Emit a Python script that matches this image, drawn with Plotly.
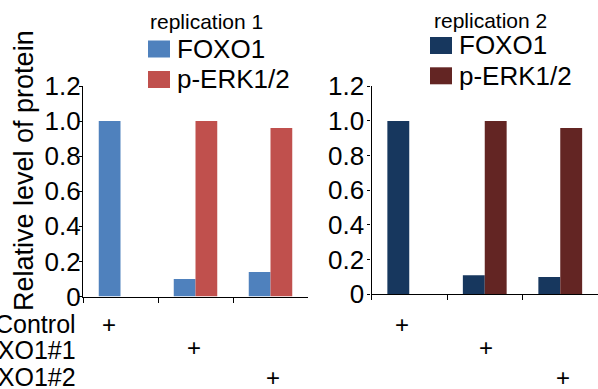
import plotly.graph_objects as go

# ---- data ----
conditions = ["Control", "siFOXO1#1", "siFOXO1#2"]
series_names = ["FOXO1", "p-ERK1/2"]
rep1_foxo1 = [1.0, 0.10, 0.14]
rep1_perk = [0.0, 1.0, 0.96]
rep2_foxo1 = [1.0, 0.11, 0.10]
rep2_perk = [0.0, 1.0, 0.96]
ytick_vals = [0, 0.2, 0.4, 0.6, 0.8, 1.0, 1.2]
ytick_text = ["0", "0.2", "0.4", "0.6", "0.8", "1.0", "1.2"]
rep_titles = ["replication 1", "replication 2"]

# ---- style ----
W, H = 598, 389
FONT = "Arial, Liberation Sans, sans-serif"
c1 = ["#4F81BD", "#C0504D"]
c2 = ["#17375E", "#632523"]


def px_x(v):
    return v / W


def px_y(v):
    return (H - v) / H


fig = go.Figure()
fig.add_trace(go.Bar(x=conditions, y=rep1_foxo1, name=series_names[0], marker_color=c1[0],
                     marker_line_width=0, xaxis="x", yaxis="y", showlegend=False))
fig.add_trace(go.Bar(x=conditions, y=rep1_perk, name=series_names[1], marker_color=c1[1],
                     marker_line_width=0, xaxis="x", yaxis="y", showlegend=False))
fig.add_trace(go.Bar(x=conditions, y=rep2_foxo1, name=series_names[0], marker_color=c2[0],
                     marker_line_width=0, xaxis="x2", yaxis="y2", showlegend=False))
fig.add_trace(go.Bar(x=conditions, y=rep2_perk, name=series_names[1], marker_color=c2[1],
                     marker_line_width=0, xaxis="x2", yaxis="y2", showlegend=False))

xa = dict(showticklabels=False, ticks="outside", tickson="boundaries", ticklen=5,
          tickcolor="black", showline=True, linecolor="black", linewidth=1.3,
          showgrid=False, zeroline=False, fixedrange=True, automargin=False)
ya = dict(range=[0, 1.2], tickvals=ytick_vals, ticktext=ytick_text, ticks="outside",
          ticklen=3, tickcolor="black", showline=True, linecolor="black", linewidth=1.3,
          showgrid=False, zeroline=False, automargin=False,
          tickfont=dict(size=26, color="black", family=FONT))

fig.update_layout(
    width=W, height=H,
    margin=dict(l=0, r=0, t=0, b=0, autoexpand=False),
    paper_bgcolor="white", plot_bgcolor="white",
    barmode="group", bargap=0.42, bargroupgap=0,
    font=dict(family=FONT, color="black"),
    xaxis=dict(domain=[px_x(83), px_x(308)], anchor="y", **xa),
    yaxis=dict(domain=[px_y(296.5), px_y(86)], anchor="x", ticklabelstandoff=-7, **ya),
    xaxis2=dict(domain=[px_x(371.5), 1.0], anchor="y2", **xa),
    yaxis2=dict(domain=[px_y(294.3), px_y(86.3)], anchor="x2", ticklabelstandoff=-2, **ya),
)

annotations = []
shapes = []

# y-axis title
annotations.append(dict(text="Relative level of protein", textangle=-90, x=px_x(24), y=px_y(171),
                        xref="paper", yref="paper", showarrow=False, xanchor="center",
                        yanchor="middle", font=dict(size=27, family=FONT, color="black")))

# manual legends
legends = [
    dict(title_x=206, title_y=21.5, sw_x=148, txt_x=175, rows=[49, 79.5], colors=c1),
    dict(title_x=490, title_y=21, sw_x=430, txt_x=457, rows=[45.5, 75.8], colors=c2),
]
for lg, title in zip(legends, rep_titles):
    annotations.append(dict(text=title, x=px_x(lg["title_x"]), y=px_y(lg["title_y"]),
                            xref="paper", yref="paper", showarrow=False, xanchor="center",
                            yanchor="middle", font=dict(size=21, family=FONT, color="black")))
    for name, col, cy in zip(series_names, lg["colors"], lg["rows"]):
        shapes.append(dict(type="rect", xref="paper", yref="paper",
                           x0=px_x(lg["sw_x"]), x1=px_x(lg["sw_x"] + 22),
                           y0=px_y(cy - 8.5), y1=px_y(cy + 8.5),
                           fillcolor=col, line=dict(width=0)))
        annotations.append(dict(text=name, x=px_x(lg["txt_x"]), y=px_y(cy),
                                xref="paper", yref="paper", showarrow=False, xanchor="left",
                                yanchor="middle", font=dict(size=26, family=FONT, color="black")))

# design rows (labels on the left, + marks under each panel)
row_label_y = [324, 350, 376.5]
plus_y = [324.5, 347.5, 377.5]
plus_shift = {"x": [-12, -2, 2], "x2": [-7, 1, 3]}
for i, cond in enumerate(conditions):
    annotations.append(dict(text=cond, x=px_x(78), y=px_y(row_label_y[i]), xref="paper",
                            yref="paper", showarrow=False, xanchor="right", yanchor="middle",
                            font=dict(size=25, family=FONT, color="black")))
    for ax in ["x", "x2"]:
        annotations.append(dict(text="+", x=cond, xref=ax, y=px_y(plus_y[i]), yref="paper",
                                xshift=plus_shift[ax][i], showarrow=False, xanchor="center",
                                yanchor="middle", font=dict(size=24, family=FONT, color="black")))

fig.update_layout(annotations=annotations, shapes=shapes)
fig.write_html("out.html", config={"displayModeBar": False},
               post_script="document.body.style.margin='0';document.body.style.padding='0';")
